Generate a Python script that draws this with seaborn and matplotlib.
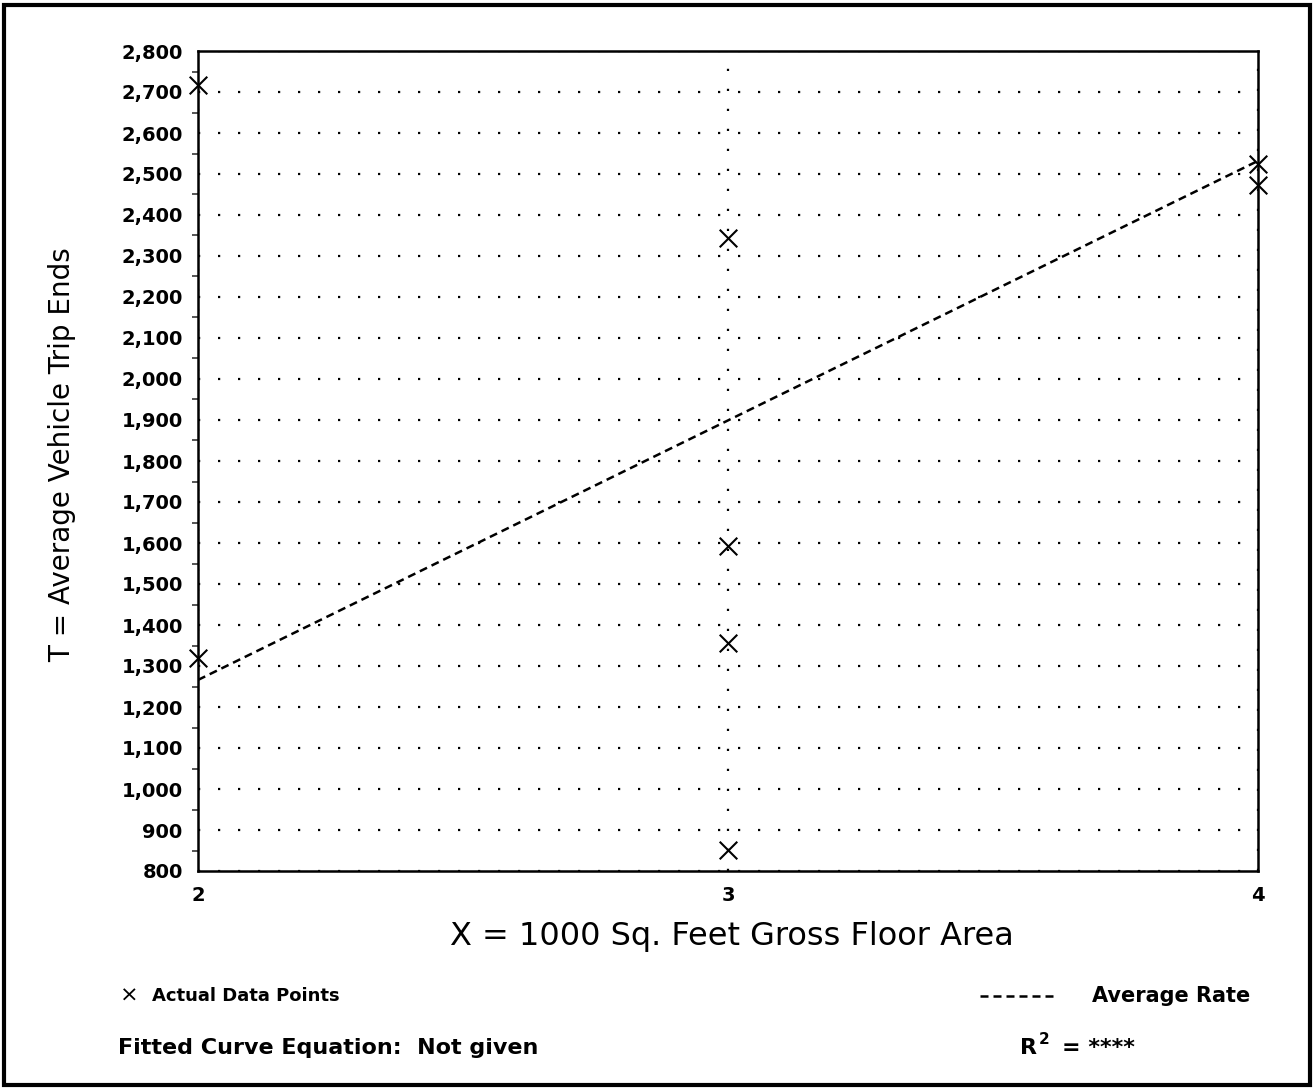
import matplotlib
matplotlib.use('Agg')
import matplotlib.pyplot as plt
import seaborn as sns
import pandas as pd
from matplotlib.ticker import MultipleLocator, FuncFormatter
from matplotlib.patches import Rectangle
from matplotlib.lines import Line2D

# valeurs
area_x = [2, 2, 3, 3, 3, 3, 4, 4]
trips_y = [2717, 1320, 2345, 1592, 1357, 852, 2525, 2473]

# taux moyen (ligne pointillée)
rate_x = [2, 4]
rate_y = [1266, 2532]

x_ticks = [2, 3, 4]
y_ticks = list(range(800, 2900, 100))

sns.set_style('white')
plt.rcParams['font.family'] = ['DejaVu Sans']
plt.rcParams['text.color'] = 'black'

W, H = 1315, 1089
fig = plt.figure(figsize=(W / 100, H / 100), dpi=100)
ax = fig.add_axes([198 / W, 1 - 871 / H, (1258 - 198) / W, (871 - 51) / H])

pts = pd.DataFrame({'area': area_x, 'trips': trips_y})
sns.scatterplot(data=pts, x='area', y='trips', marker='x', s=160, color='black',
                linewidth=1.5, ax=ax, clip_on=False, zorder=5, legend=False)

rate = pd.DataFrame({'area': rate_x, 'trips': rate_y})
sns.lineplot(data=rate, x='area', y='trips', color='black', lw=1.8,
             linestyle=(0, (3.2, 2.0)), ax=ax, zorder=4)

ax.set_xlim(2, 4)
ax.set_ylim(800, 2800)
ax.set_xticks(x_ticks)
ax.set_yticks(y_ticks)
ax.yaxis.set_minor_locator(MultipleLocator(50))
ax.yaxis.set_major_formatter(FuncFormatter(lambda v, p: f'{int(v):,}'))
ax.set_xlabel('')
ax.set_ylabel('')

ax.grid(True, which='major', color='black', linestyle=(0, (1, 8)), lw=1.6)
ax.tick_params(axis='both', which='major', direction='out', length=7, width=1.3,
               labelsize=14, pad=4, colors='black')
ax.tick_params(axis='y', which='minor', direction='out', length=4, width=1.1, left=True)
for lab in ax.get_xticklabels() + ax.get_yticklabels():
    lab.set_fontweight('bold')
for sp in ax.spines.values():
    sp.set_color('black')
    sp.set_linewidth(1.8)

# titres des axes
fig.text(732 / W, 1 - 937 / H, 'X = 1000 Sq. Feet Gross Floor Area', fontsize=23,
         ha='center', va='center')
fig.text(62 / W, 1 - 455 / H, 'T = Average Vehicle Trip Ends', fontsize=20,
         rotation=90, ha='center', va='center')

# légende en bas
fig.text(120 / W, 1 - 996 / H, '×', fontsize=16, ha='left', va='center')
fig.text(152 / W, 1 - 996 / H, 'Actual Data Points', fontsize=13, weight='bold',
         ha='left', va='center')
fig.add_artist(Line2D([980 / W, 1053 / W], [1 - 996 / H, 1 - 996 / H],
                      transform=fig.transFigure, color='black', lw=1.8,
                      linestyle=(0, (3.2, 2.0))))
fig.text(1250 / W, 1 - 996 / H, 'Average Rate', fontsize=15, weight='bold',
         ha='right', va='center')
fig.text(118 / W, 1 - 1048 / H, 'Fitted Curve Equation:  Not given', fontsize=16,
         weight='bold', ha='left', va='center')
fig.text(1020 / W, 1 - 1048 / H, 'R', fontsize=16, weight='bold',
         ha='left', va='center')
fig.text(1039 / W, 1 - 1040 / H, '2', fontsize=11, weight='bold',
         ha='left', va='center')
fig.text(1062 / W, 1 - 1048 / H, '= ****', fontsize=16, weight='bold',
         ha='left', va='center')

# cadre
fig.add_artist(Rectangle((0.003, 0.004), 0.993, 0.991, transform=fig.transFigure,
                         fill=False, lw=3, ec='black'))

fig.savefig('out.png', dpi=100)
